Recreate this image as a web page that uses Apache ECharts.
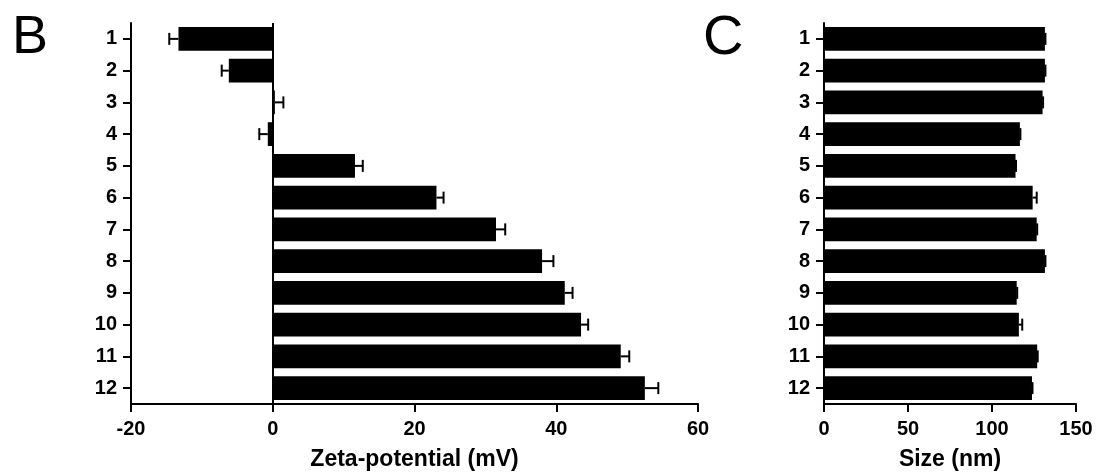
<!DOCTYPE html>
<html>
<head>
<meta charset="utf-8">
<script src="https://cdn.jsdelivr.net/npm/echarts@6/dist/echarts.min.js"></script>
<style>
html,body{margin:0;padding:0;background:#fff;}
#chart{width:1098px;height:473px;}
</style>
</head>
<body>
<div id="chart"></div>
<script>
const categories = ['1','2','3','4','5','6','7','8','9','10','11','12'];
const zetaMean = [-13.3, -6.2, 0.3, -0.7, 11.6, 23.1, 31.5, 38.0, 41.2, 43.5, 49.1, 52.5];
const zetaErr  = [1.3, 1.0, 1.2, 1.2, 1.1, 1.0, 1.3, 1.6, 1.1, 1.0, 1.2, 1.9];
const sizeMean = [131.5, 131.5, 130.1, 116.6, 114.0, 124.2, 126.6, 131.5, 114.7, 116.0, 126.9, 123.8];
const sizeErr  = [0.3, 0.3, 0.3, 0.3, 0.3, 2.4, 0.3, 0.3, 0.3, 2.0, 0.3, 0.3];
const zetaTitle = 'Zeta-potential (mV)';
const sizeTitle = 'Size (nm)';
const panelB = 'B';
const panelC = 'C';

const FONT = '"Liberation Sans", Arial, sans-serif';
const chart = echarts.init(document.getElementById('chart'), null, {renderer:'canvas'});

function errItem(means, errs){
  return function(params, api){
    const i = api.value(0);
    const m = means[i];
    const e = errs[i];
    const end = m >= 0 ? m + e : m - e;
    const p0 = api.coord([m, i]);
    const p1 = api.coord([end, i]);
    const h = 6;
    const st = {stroke:'#000', lineWidth:2};
    return {type:'group', children:[
      {type:'line', shape:{x1:p0[0], y1:p0[1], x2:p1[0], y2:p1[1]}, style:st},
      {type:'line', shape:{x1:p1[0], y1:p1[1]-h, x2:p1[0], y2:p1[1]+h}, style:st}
    ]};
  };
}

const axisLineStyle = {show:true, lineStyle:{color:'#000', width:2}};
const tickStyle = {show:true, inside:false, length:8, lineStyle:{color:'#000', width:2}};
const labelStyle = {color:'#000', fontFamily:FONT, fontWeight:'bold', fontSize:20};
const nameStyle = {color:'#000', fontFamily:FONT, fontWeight:'bold', fontSize:23};

const option = {
  backgroundColor:'#fff',
  animation:false,
  grid:[
    {left:131, top:23, width:567, height:381, containLabel:false, outerBoundsMode:'none'},
    {left:824, top:23, width:252, height:381, containLabel:false, outerBoundsMode:'none'}
  ],
  xAxis:[
    {gridIndex:0, type:'value', min:-20, max:60, interval:20,
     axisLine:axisLineStyle, axisTick:tickStyle, splitLine:{show:false},
     axisLabel:Object.assign({margin:15}, labelStyle),
     name:zetaTitle, nameLocation:'middle', nameGap:44, nameTextStyle:nameStyle},
    {gridIndex:1, type:'value', min:0, max:150, interval:50,
     axisLine:axisLineStyle, axisTick:tickStyle, splitLine:{show:false},
     axisLabel:Object.assign({margin:15}, labelStyle),
     name:sizeTitle, nameLocation:'middle', nameGap:44, nameTextStyle:nameStyle}
  ],
  yAxis:[
    {gridIndex:0, type:'category', data:categories, inverse:true,
     axisLine:Object.assign({onZero:false}, axisLineStyle),
     axisTick:Object.assign({alignWithLabel:true}, tickStyle),
     axisLabel:Object.assign({margin:14}, labelStyle)},
    {gridIndex:1, type:'category', data:categories, inverse:true,
     axisLine:Object.assign({onZero:false}, axisLineStyle),
     axisTick:Object.assign({alignWithLabel:true}, tickStyle),
     axisLabel:Object.assign({margin:14}, labelStyle)}
  ],
  series:[
    {type:'bar', xAxisIndex:0, yAxisIndex:0, data:zetaMean, barCategoryGap:'25%',
     itemStyle:{color:'#000'},
     markLine:{silent:true, symbol:'none', label:{show:false},
       lineStyle:{color:'#000', width:2, type:'solid'}, data:[{xAxis:0}]}},
    {type:'custom', xAxisIndex:0, yAxisIndex:0, z:3,
     data:categories.map((c,i)=>[i]), encode:{x:-1, y:0},
     renderItem:errItem(zetaMean, zetaErr)},
    {type:'bar', xAxisIndex:1, yAxisIndex:1, data:sizeMean, barCategoryGap:'25%',
     itemStyle:{color:'#000'}},
    {type:'custom', xAxisIndex:1, yAxisIndex:1, z:3,
     data:categories.map((c,i)=>[i]), encode:{x:-1, y:0},
     renderItem:errItem(sizeMean, sizeErr)}
  ],
  graphic:[
    {type:'text', left:12, top:11, style:{text:panelB, fill:'#000', font:'normal 54px '+FONT}},
    {type:'text', left:703, top:11, style:{text:panelC, fill:'#000', font:'normal 56px '+FONT}}
  ]
};
chart.setOption(option);
</script>
</body>
</html>
